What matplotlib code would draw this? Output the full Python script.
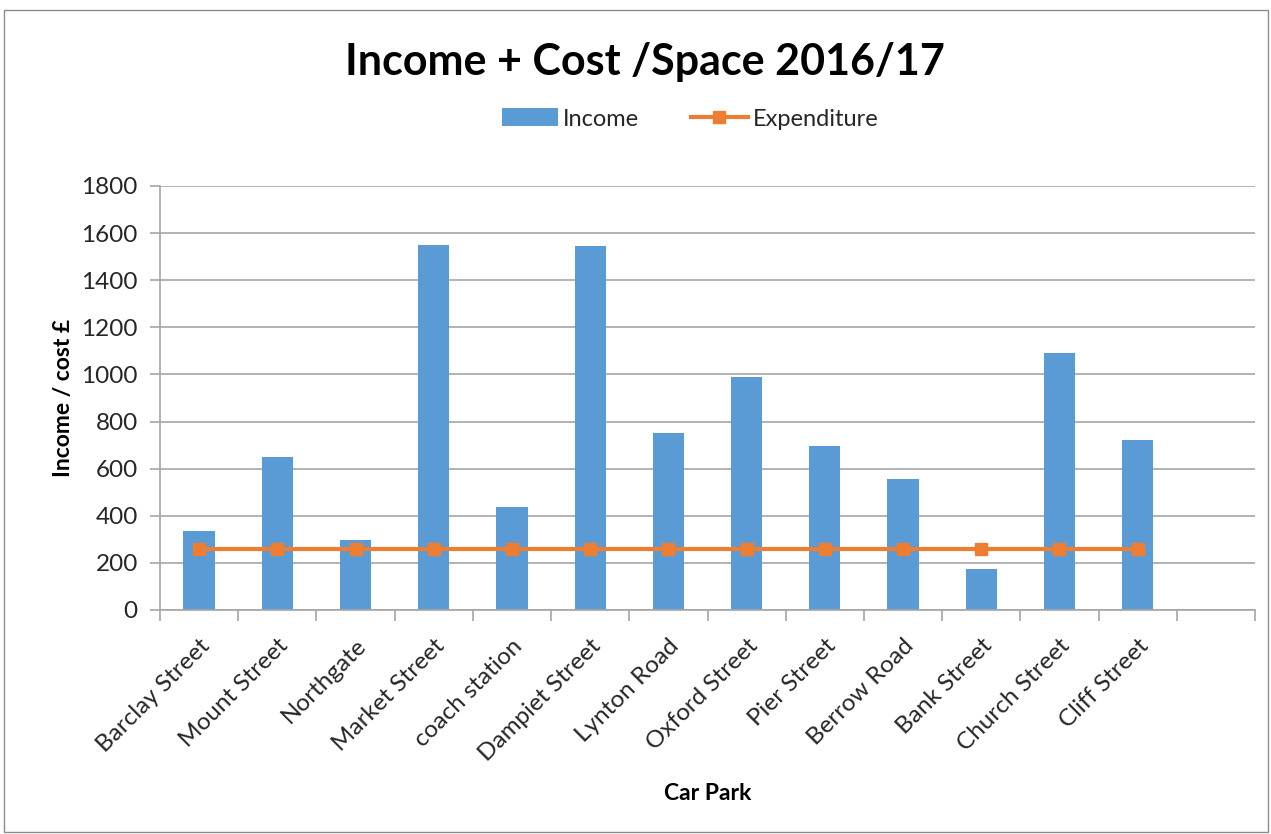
import matplotlib
matplotlib.use("Agg")
import matplotlib.pyplot as plt
from matplotlib.lines import Line2D
from matplotlib.patches import Patch, Rectangle
import numpy as np

plt.rcParams["font.family"] = ["Lato", "DejaVu Sans"]

car_parks = ["Barclay Street", "Mount Street", "Northgate", "Market Street",
             "coach station", "Dampiet Street", "Lynton Road", "Oxford Street",
             "Pier Street", "Berrow Road", "Bank Street", "Church Street",
             "Cliff Street"]
income = [337, 648, 298, 1551, 436, 1547, 750, 991, 698, 555, 174, 1090, 720]
expenditure = [260] * len(car_parks)
y_ticks = [0, 200, 400, 600, 800, 1000, 1200, 1400, 1600, 1800]

BLUE = "#5B9BD5"
ORANGE = "#ED7D31"
GRID = "#A6A6A6"
TEXT = "#262626"

W, H = 1271, 834
fig = plt.figure(figsize=(W / 100, H / 100), dpi=100)
fig.patch.set_facecolor("white")

# chart-area border
fig.add_artist(Rectangle((4 / W, 2 / H), 1264 / W, 822 / H, transform=fig.transFigure,
                         fill=False, edgecolor="#8C8C8C", linewidth=1.0))

ax = fig.add_axes([160 / W, 1 - 610 / H, (1255 - 160) / W, (610 - 186) / H])

n_slots = len(car_parks) + 1
x = np.arange(len(car_parks))
ax.bar(x, income, width=0.4, color=BLUE, zorder=2)
ax.plot(x, expenditure, color=ORANGE, linewidth=3, marker="s", markersize=9,
        zorder=3)

ax.set_xlim(-0.5, n_slots - 0.5)
ax.set_ylim(0, 1800)
ax.set_yticks(y_ticks)
ax.set_yticklabels([str(v) for v in y_ticks], fontsize=17.5, color=TEXT)
ax.yaxis.grid(True, color=GRID, linewidth=1.2, zorder=0)
ax.set_axisbelow(True)

ax.set_xticks(np.arange(n_slots + 1) - 0.5)
ax.set_xticklabels([])
ax.set_xticks(x, minor=True)
ax.set_xticklabels(car_parks, minor=True, rotation=45, ha="right", va="top",
                   rotation_mode="anchor", fontsize=17.5, color=TEXT)
ax.tick_params(axis="x", which="major", length=8, color=GRID, width=1.2)
ax.tick_params(axis="x", which="minor", length=0, pad=18)
ax.tick_params(axis="y", length=7, color=GRID, width=1.2, pad=9)

for side in ("top", "right"):
    ax.spines[side].set_visible(False)
for side in ("left", "bottom"):
    ax.spines[side].set_color(GRID)
    ax.spines[side].set_linewidth(1.2)

ax.set_ylabel("Income / cost £", fontsize=16.5, fontweight="bold", color="black",
              labelpad=5)
fig.text(708 / W, 1 - 793 / H, "Car Park", fontsize=16.5, fontweight="bold",
         ha="center", va="center")

fig.text(645 / W, 1 - 62 / H, "Income + Cost /Space 2016/17", fontsize=31,
         fontweight="bold", ha="center", va="center")

handles = [Patch(facecolor=BLUE, edgecolor="none"),
           Line2D([0], [0], color=ORANGE, linewidth=3, marker="s", markersize=9)]
fig.legend(handles, ["Income", "Expenditure"], loc="center",
           bbox_to_anchor=(690 / W, 1 - 119 / H), ncol=2, frameon=False,
           fontsize=17, handlelength=2.4, handleheight=0.8, handletextpad=0.2,
           columnspacing=2.2, labelcolor=TEXT)

fig.savefig("out.png", dpi=100)
